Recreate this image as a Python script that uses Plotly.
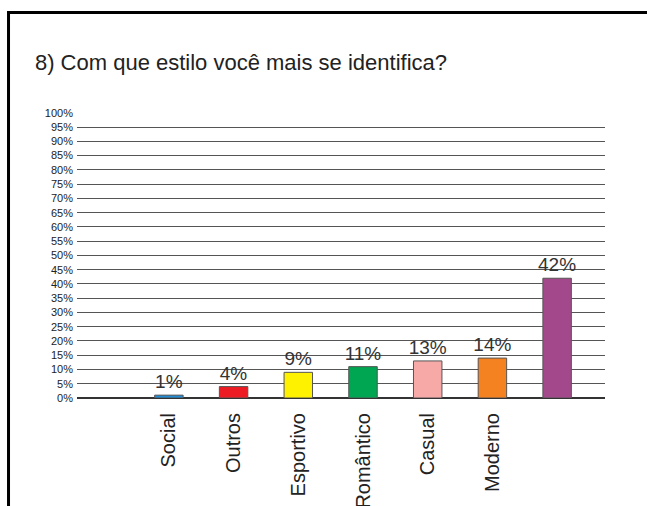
import plotly.graph_objects as go

# Dados do gráfico
estilos = ["Social", "Outros", "Esportivo", "Romântico", "Casual", "Moderno", " "]
percentuais = [1, 4, 9, 11, 13, 14, 42]
rotulos = ["1%", "4%", "9%", "11%", "13%", "14%", "42%"]
cores = ["#1f8dd6", "#ed1c24", "#fff200", "#00a651", "#f7a9a8", "#f58220", "#a3488a"]
ticks_y = list(range(0, 101, 5))

fonte = "Liberation Sans, Arial, sans-serif"

fig = go.Figure(go.Bar(
    x=estilos,
    y=percentuais,
    text=rotulos,
    textposition="outside",
    constraintext="none",
    cliponaxis=False,
    outsidetextfont=dict(size=19, color="#333333", family=fonte),
    marker=dict(color=cores, line=dict(color="#555555", width=1)),
    width=0.44,
))

# moldura preta (esquerda e topo)
fig.add_shape(type="path", xref="paper", yref="paper",
              path="M -0.1297 -0.4 L -0.1297 1.348 L 1.2 1.348",
              line=dict(color="black", width=3))

fig.update_layout(
    width=647, height=506,
    margin=dict(l=77, r=42, t=112, b=108, autoexpand=False),
    paper_bgcolor="white", plot_bgcolor="white",
    showlegend=False,
    font=dict(family=fonte, color="#222222"),
    title=dict(text="8) Com que estilo você mais se identifica?",
               xref="container", yref="container", x=0.054, y=0.877,
               xanchor="left", yanchor="middle",
               font=dict(size=22, color="#222222", family=fonte)),
    xaxis=dict(range=[-1.42, 6.74], tickangle=-90, showgrid=False,
               tickfont=dict(size=20, color="#222222"), ticks="",
               ticklabelstandoff=10, showline=False, automargin=False),
    yaxis=dict(range=[0, 100.3], tickvals=ticks_y,
               ticktext=[f"{v}%" for v in ticks_y],
               tickfont=dict(size=11, color="#222222"), automargin=False,
               ticklabelstandoff=3,
               showgrid=True, gridcolor="#555555", gridwidth=1,
               zeroline=True, zerolinecolor="#333333", zerolinewidth=2),
)

fig.write_html("out.html", config={"displayModeBar": False},
               post_script="document.body.style.margin='0';")
